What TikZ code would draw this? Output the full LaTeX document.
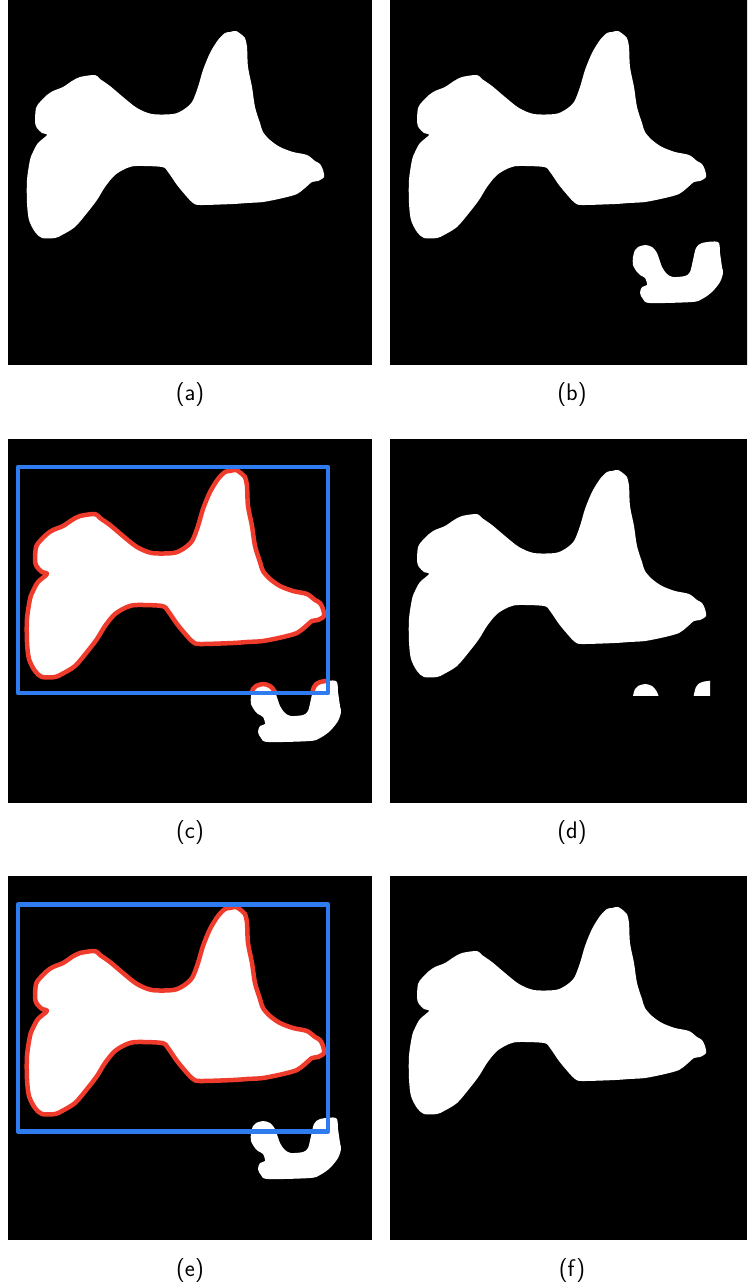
\documentclass[tikz,border=0pt]{standalone}
\usepackage{fontspec}
\definecolor{boxblue}{RGB}{47,124,240}
\definecolor{contred}{RGB}{239,59,44}
\tikzset{
  panel/.style={fill=black, draw=none},
  lbl/.style={font=\sffamily\fontsize{24}{28}\selectfont, inner sep=0pt, text=black},
  shapefill/.style={fill=white, draw=none},
  redline/.style={draw=contred, line width=4.5pt, line join=round},
  bluebox/.style={draw=boxblue, line width=4.5pt, line join=round}
}
\def\fishpath{plot[smooth cycle, tension=0.5] coordinates {
(230,32) (236,31) (242,35) (245,38) (247,47) (248,67) (252,87) (255,107) (260,123) (263,132) (270,140) (280,147) (293,152) (307,155) (315,161) (320,164) (323,170) (324,177) (318,181) (312,182) (305,188) (297,194) (283,198) (263,202) (247,203) (233,204) (200,205) (193,203) (187,197) (177,185) (168,172) (162,167) (137,166) (127,168) (115,175) (105,187) (97,200) (87,213) (75,227) (62,235) (55,238) (42,238) (35,232) (29,220) (27,203) (27,180) (30,160) (33,152) (38,143) (47,135) (42,133) (37,128) (35,122) (36,108) (40,102) (47,95) (53,91) (63,87) (72,81) (80,77) (95,75) (100,79) (110,86) (123,97) (137,108) (152,114) (173,114) (183,110) (192,102) (198,87) (203,70) (210,53) (218,40) (225,33)}}
\def\blobpath{plot[smooth cycle, tension=0.5] coordinates {
(256,247) (263,245) (270,247) (275,253) (280,267) (285,274) (291,277) (303,276) (308,272) (311,260) (314,248) (320,243) (336,242) (338,253) (340,267) (341,273) (338,282) (330,292) (320,299) (310,302) (268,303) (261,299) (258,293) (260,287) (265,285) (263,278) (258,275) (255,272) (251,265) (251,257) (253,250)}}
\begin{document}
\begin{tikzpicture}[x=1pt, y=-1pt]
\useasboundingbox (0,0) rectangle (747,1287);
% panel (a)
\begin{scope}[shift={(0,0)}]
  \fill[panel] (8,0) rectangle (372,365);
  \fill[shapefill] \fishpath;
\end{scope}
\node[lbl] (la) at (190,395) {(a)};
% panel (b)
\begin{scope}[shift={(382,0)}]
  \begin{scope}
    \clip (8,0) rectangle (365,365);
    \fill[panel] (8,0) rectangle (372,365);
    \fill[shapefill] \fishpath;
    \fill[shapefill] \blobpath;
  \end{scope}
\end{scope}
\node[lbl] (lb) at (572,395) {(b)};
% panel (c)
\begin{scope}[shift={(0,439)}]
  \fill[panel] (8,0) rectangle (372,364);
  \fill[shapefill] \blobpath;
  \begin{scope}
    \clip (18,28) rectangle (328,254);
    \draw[redline] \blobpath;
  \end{scope}
  \filldraw[shapefill, redline] \fishpath;
  \draw[bluebox] (18,28) rectangle (328,254);
\end{scope}
\node[lbl] (lc) at (190,833) {(c)};
% panel (d)
\begin{scope}[shift={(382,439)}]
  \fill[panel] (8,0) rectangle (365,364);
  \fill[shapefill] \fishpath;
  \begin{scope}
    \clip (18,28) rectangle (328,256);
    \fill[shapefill] \blobpath;
  \end{scope}
\end{scope}
\node[lbl] (ld) at (572,833) {(d)};
% panel (e)
\begin{scope}[shift={(0,876)}]
  \fill[panel] (8,0) rectangle (372,364);
  \fill[shapefill] \blobpath;
  \filldraw[shapefill, redline] \fishpath;
  \draw[bluebox] (18,28.5) rectangle (328,255.5);
\end{scope}
\node[lbl] (le) at (190,1270) {(e)};
% panel (f)
\begin{scope}[shift={(382,876)}]
  \fill[panel] (8,0) rectangle (365,364);
  \fill[shapefill] \fishpath;
\end{scope}
\node[lbl] (lf) at (572,1270) {(f)};
\end{tikzpicture}
\end{document}
